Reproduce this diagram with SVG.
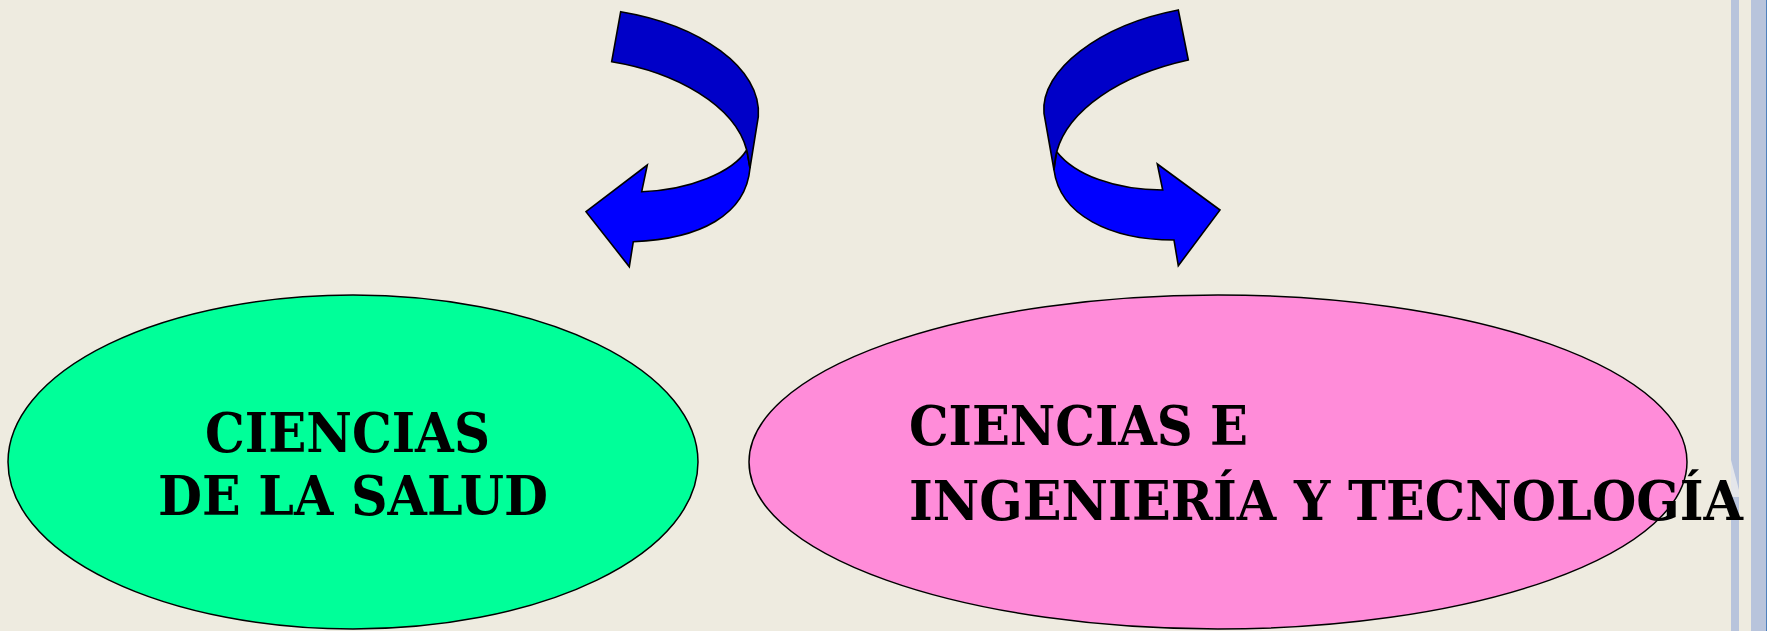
<svg xmlns="http://www.w3.org/2000/svg" width="1767" height="631" viewBox="0 0 1767 631">
<style>
.bg{fill:#eeebe0}
.stripe{fill:#b8c4dc}
.dark{fill:#0000c8;stroke:#000;stroke-width:1.6;stroke-linejoin:miter}
.light{fill:#0000ff;stroke:#000;stroke-width:1.6;stroke-linejoin:miter}
.ell{stroke:#000;stroke-width:1.5}
.lbl{font-family:"DejaVu Serif","Liberation Serif",serif;font-weight:bold;font-size:54px;fill:#000}
</style>
<rect class="bg" x="0" y="0" width="1767" height="631"/>
<rect class="stripe" x="1731" y="0" width="8" height="631"/>
<rect class="stripe" x="1751" y="0" width="15" height="631"/>
<rect x="1766" y="0" width="1" height="631" fill="#4f81bd"/>
<polygon points="1731,460 1739,490 1739,497 1731,497" fill="#e4e6ea"/>
<g id="connectors">
<g id="arrow-left">
<path class="light" d="M746.7,150 C733,172 690,190 641.7,191.7 L647.3,165 L586,211.7 L629.3,266.7 L633.3,241.7 C700,239 746,215 750,168 Z"/>
<path class="dark" d="M620.7,11.7 C700,25 762,68 758.3,116.7 L750,168 C748.5,160 748,155 746.7,150 C735,105 675,72 611.7,61.7 Z"/>
</g>
<g id="arrow-right">
<path class="light" d="M1056.7,151.7 C1075,175 1115,190 1162.7,190 L1157.3,164 L1220,210 L1178.3,265.7 L1174,240 C1110,240 1060,215 1054,170 Z"/>
<path class="dark" d="M1178.3,10 C1100,25 1040,70 1044,113.3 L1054,170 C1054.5,163 1055,158 1056.7,151.7 C1068,110 1120,75 1188.3,60 Z"/>
</g>
</g>
<g id="node-salud">
<ellipse class="ell" cx="353" cy="462" rx="345" ry="167" fill="#00ff99"/>
<text class="lbl" x="205" y="452" textLength="285" lengthAdjust="spacingAndGlyphs">CIENCIAS</text>
<text class="lbl" x="158" y="515" textLength="390" lengthAdjust="spacingAndGlyphs">DE LA SALUD</text>
</g>
<g id="node-ingenieria">
<ellipse class="ell" cx="1218" cy="462" rx="469" ry="167" fill="#ff8cd9"/>
<text class="lbl" x="909" y="445" textLength="339" lengthAdjust="spacingAndGlyphs">CIENCIAS E</text>
<text class="lbl" x="909" y="520" textLength="834" lengthAdjust="spacingAndGlyphs">INGENIERÍA Y TECNOLOGÍA</text>
</g>
</svg>
